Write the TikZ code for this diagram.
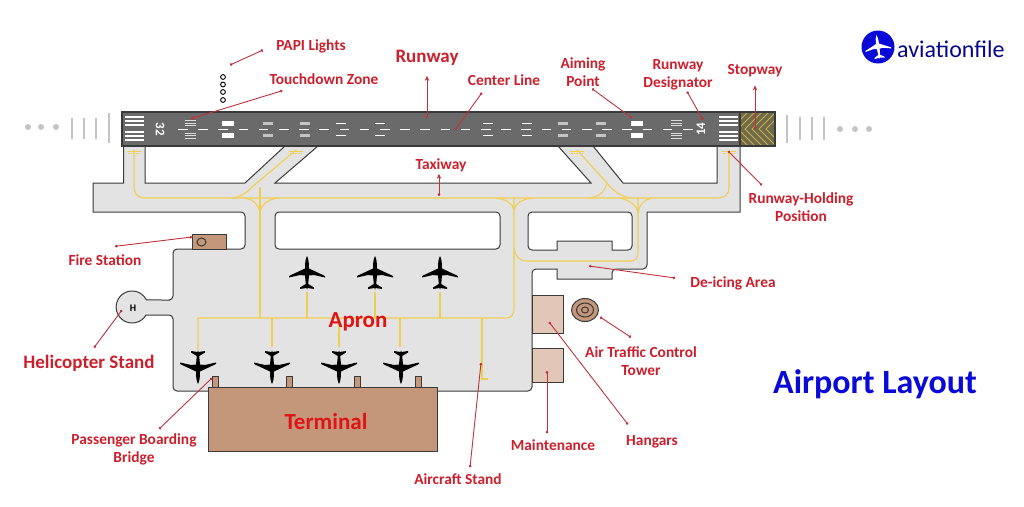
\documentclass[tikz,border=0pt]{standalone}
\usepackage{fontspec}
\setmainfont{Carlito}
\usetikzlibrary{arrows.meta}
\definecolor{lblred}{HTML}{CC1F2C}
\definecolor{bigred}{HTML}{E01414}
\definecolor{tarmac}{HTML}{E3E3E3}
\definecolor{rwygray}{HTML}{6A6A6A}
\definecolor{edgegray}{HTML}{3A3A3A}
\definecolor{taxiyellow}{HTML}{F0CE4E}
\definecolor{stopgray}{HTML}{6E6A4C}
\definecolor{terminalbrown}{HTML}{C4967A}
\definecolor{hangarbrown}{HTML}{E3C7B6}
\definecolor{logoblue}{HTML}{0A0AD8}
\definecolor{lightgray}{HTML}{C4C4C4}
\tikzset{
    plane/.pic={
        \fill[pic actions] (0,-17) .. controls (1.6,-14) and (2,-10) .. (2,-4.5)
            -- (18,3) -- (18,4.5) -- (7,2) -- (2,2.5) -- (1.2,11) -- (7,14.5) -- (7,16)
            -- (0.5,15) -- (0,16.5) -- (-0.5,15) -- (-7,16) -- (-7,14.5) -- (-1.2,11)
            -- (-2,2.5) -- (-7,2) -- (-18,4.5) -- (-18,3) -- (-2,-4.5)
            .. controls (-2,-10) and (-1.6,-14) .. (0,-17) -- cycle;
    }
}

\begin{document}
\begin{tikzpicture}[
            x=1pt, y=-1pt,
            % ----- Styles -----
                lbl/.style={
                    font=\fontsize{15.4}{18}\selectfont\bfseries,
                    text=lblred, align=center, inner sep=0pt
                },
                biglbl/.style={font=\fontsize{23}{27}\selectfont\bfseries, text=bigred, inner sep=0pt},
                callout/.style={{Circle[length=2.6pt]}-{Circle[length=2.6pt]}, draw=lblred!80!gray, line width=0.9pt},
                calltip/.style={{Circle[length=2.6pt]}-{Stealth[length=5pt,width=4.5pt]}, draw=lblred!80!gray, line width=0.9pt},
                taxi/.style={draw=taxiyellow, line width=1.1pt},
                building/.style={draw=edgegray, line width=1pt},
                approach/.style={draw=lightgray, line width=2pt},
                centerdash/.style={draw=white, line width=1pt}
            ]
                \useasboundingbox (0,0) rectangle (1024,506);

% ===================== Approach lights =========================
                \foreach \x in {28,41,56} \fill[lightgray] (\x,127) circle (3);
                \foreach \x in {840,855,869} \fill[lightgray] (\x,129) circle (3);
                \foreach \x in {72,84,96} \draw[approach] (\x,118) -- (\x,139);
                \draw[approach] (109,113) -- (109,143);
                \draw[approach] (787,115) -- (787,143);
                \foreach \x in {800,812,824} \draw[approach] (\x,117) -- (\x,140);

% ===================== Taxiways and apron ======================
                \draw[draw=edgegray, line width=1pt, fill=tarmac, even odd rule]
                    (93,195) -- (93,183) -- (123.5,183) -- (123.5,146) -- (145,146) -- (145,183)
                    -- (245,183) -- (285,146) -- (318,146) -- (275,183) -- (591,183) -- (558,146)
                    -- (593,146) -- (623,183) -- (717,183) -- (717,146) -- (740,146) -- (740,212)
                    -- (647,212) [rounded corners=4pt] -- (647,269) -- (612,269) [sharp corners] -- (612,279) -- (557,279) -- (557,269)
                    [rounded corners=4pt] -- (532,269) -- (532,391) -- (173,391) -- (173,315) [sharp corners]
                    -- (146,315) arc[start angle=30, end angle=334, radius=16] -- (170,300)
                    [rounded corners=4pt] -- (173,300) -- (173,249) -- (245,249) -- (245,212) [sharp corners] -- (93,212) -- cycle
                    [rounded corners=4pt] (275,230) -- (275,212) -- (500,212) -- (500,249) -- (275,249) -- cycle
                    (528,230) -- (528,212) -- (632,212) -- (632,250) [sharp corners] -- (612,250) -- (612,241)
                    -- (557,241) -- (557,250) [rounded corners=4pt] -- (528,250) -- cycle;

% ===================== Taxi guidance lines =====================
                \draw[taxi] (134,150) -- (134,185) .. controls (134,195) and (138,198) .. (146,198) -- (715,198)
                    .. controls (725,198) and (729,195) .. (729,187) -- (729,151);
                \draw[taxi] (296,150) -- (252,187) .. controls (245,194) and (240,197) .. (232,198);
                \draw[taxi] (245,198) .. controls (254,200) and (259,205) .. (260,213);
                \draw[taxi] (277,198) .. controls (267,200) and (261,205) .. (260,213);
                \draw[taxi] (260,187) -- (260,318);
                \draw[taxi] (198,350) -- (198,318) -- (506,318) .. controls (512,318) and (514,314) .. (514,308) -- (514,198);
                \draw[taxi] (497,198) .. controls (506,200) and (513,203) .. (514,210);
                \draw[taxi] (531,198) .. controls (522,200) and (515,203) .. (514,210);
                \draw[taxi] (514,248) .. controls (515,256) and (519,261) .. (527,261) -- (630,261)
                    .. controls (636,261) and (638,258) .. (638,252) -- (638,198);
                \draw[taxi] (620,198) .. controls (629,200) and (637,205) .. (638,213);
                \draw[taxi] (651,198) .. controls (644,200) and (639,205) .. (638,213);
                \draw[taxi] (577,150) -- (607,183) .. controls (612,190) and (620,196) .. (630,198);
                \draw[taxi] (607,183) .. controls (605,192) and (598,197) .. (590,198);
                \foreach \x in {272,339,400} \draw[taxi] (\x,318) -- (\x,347);
                \foreach \x in {307,375,440} \draw[taxi] (\x,318) -- (\x,292);
                \draw[taxi] (482,318) -- (482,379) -- (488,379);
                \foreach \x in {134,296,577,729} {
                    \draw[taxi, line width=0.9pt] (\x-7,151) -- (\x+7,151);
                    \draw[taxi, line width=0.9pt, dash pattern=on 1.5pt off 1.2pt] (\x-6,153) -- (\x+6,153);
                }

% ===================== Runway ==================================
                \fill[rwygray] (122,112) rectangle (740,146);
                \fill[stopgray] (740,112) rectangle (775,146);
                \begin{scope}
                    \clip (740,112) rectangle (775,146);
                    \foreach \x in {731,738,745,752,759,766} {
                        \draw[draw=taxiyellow!85!black, line width=0.9pt] (\x+18,111) -- (\x,129) -- (\x+18,147);
                    }
                \end{scope}
                \draw[edgegray, line width=1.1pt] (122,112) rectangle (775,146);
                \draw[edgegray, line width=1.1pt] (740,112) -- (740,146);

% threshold stripes
                \foreach \y in {117,121,125,132,136,140} {
                    \draw[draw=white, line width=1.6pt] (125,\y) -- (144,\y);
                    \draw[draw=white, line width=1.6pt] (719,\y) -- (738,\y);
                }

% center line
                \foreach \x in {178,198.2,...,690} \draw[centerdash] (\x,129) -- (\x+9.5,129);

% touchdown zone and aiming point bars
                \foreach \x in {190,676} \foreach \y in {120.5,123,125.5,133,135.5,138} {
                    \draw[draw=lightgray!60!white, line width=1pt] (\x-5.5,\y) -- (\x+5.5,\y);
                }
                \foreach \x in {228,637} {
                    \fill[white] (\x-6,120.5) rectangle (\x+6,125.5);
                    \fill[white] (\x-6,132.5) rectangle (\x+6,137.5);
                }
                \foreach \x in {268,305,563,601} {
                    \fill[lightgray] (\x-5,121.5) rectangle (\x+5,124.5);
                    \fill[lightgray] (\x-5,133.5) rectangle (\x+5,136.5);
                }
                \foreach \x in {341,380,488,527} {
                    \draw[draw=white, line width=1pt] (\x-5,123) -- (\x+5,123);
                    \draw[draw=white, line width=1pt] (\x-5,135) -- (\x+5,135);
                }
                \node[font=\fontsize{13}{13}\selectfont\bfseries, text=white, rotate=-90, inner sep=0pt] (num32) at (160,129) {32};
                \node[font=\fontsize{13}{13}\selectfont\bfseries, text=white, rotate=90, inner sep=0pt] (num14) at (701,129) {14};

% ===================== PAPI lights =============================
                \foreach \y in {77,84.5,92,100} \draw[black, line width=0.9pt] (223,\y) circle (2.4);

% ===================== Buildings ===============================
                \foreach \x in {215.5,289.5,357,418} {
                    \draw[building, fill=terminalbrown] (\x-3,387) -- (\x-3,376) -- (\x+3,376) -- (\x+3,387);
                }
                \draw[building, fill=terminalbrown] (208,387) rectangle (437,451);
                \draw[building, fill=terminalbrown] (192,234) rectangle (226,249);
                \draw[building] (201.5,242) ellipse (4.5 and 4);
                \draw[building, fill=hangarbrown] (532,295) rectangle (563,333);
                \draw[building, fill=hangarbrown] (532,348) rectangle (563,382);
                \draw[building, fill=terminalbrown] (585,310) ellipse (13.5 and 11.5);
                \draw[building] (585,310) ellipse (8.5 and 7);
                \draw[building] (585,310) ellipse (3.5 and 3);
                \node[font=\fontsize{10}{10}\selectfont\bfseries, inner sep=0pt] (helipad) at (133,308) {H};

% ===================== Aircraft ================================
                \foreach \x in {307,375,440} \pic at (\x,273) {plane};
                \foreach \x in {198,272,339,401} \pic[rotate=180] at (\x,367) {plane};

% ===================== Logo ====================================
                \fill[logoblue] (878,47) circle (16.5);
                \pic[fill=white, scale=0.72, rotate=8] at (878,47) {plane};
                \node[font=\fontsize{24}{24}\selectfont, text=logoblue!65!black, anchor=west, inner sep=0pt] (logoname) at (897,49) {aviationfile};

% ===================== Labels ==================================
                \node[lbl] (lblPapi)  at (311,46)  {PAPI Lights};
                \node[lbl] (lblTouch) at (324,79)  {Touchdown Zone};
                \node[lbl, font=\fontsize{19}{23}\selectfont\bfseries] (lblRunway) at (427,58) {Runway};
                \node[lbl] (lblCenter) at (504,80) {Center Line};
                \node[lbl] (lblAiming) at (583,72) {Aiming\\Point};
                \node[lbl] (lblDesig) at (678,75)  {Runway\\Designator};
                \node[lbl] (lblStop)  at (755,71)  {Stopway};
                \node[lbl] (lblTaxi)  at (441,165) {Taxiway};
                \node[lbl] (lblHold)  at (801,207) {Runway-Holding\\Position};
                \node[lbl] (lblFire)  at (105,260) {Fire Station};
                \node[lbl] (lblDeice) at (733,283) {De-icing Area};
                \node[lbl] (lblTower) at (641,361) {Air Traffic Control\\Tower};
                \node[lbl, font=\fontsize{19}{22}\selectfont\bfseries] (lblHeli) at (89,363) {Helicopter Stand};
                \node[lbl] (lblBridge) at (134,449) {Passenger Boarding\\Bridge};
                \node[lbl] (lblMaint) at (553,445) {Maintenance};
                \node[lbl] (lblHangar) at (652,442) {Hangars};
                \node[lbl] (lblStand) at (458,479) {Aircraft Stand};
                \node[biglbl] (lblApron) at (358,322) {Apron};
                \node[biglbl] (lblTerminal) at (326,422) {Terminal};
                \node[font=\fontsize{34}{34}\selectfont\bfseries, text=logoblue, inner sep=0pt] (lblTitle) at (875,384) {Airport Layout};

% ===================== Callout lines ===========================
                \coordinate (ptPapi)   at (230,65);
                \coordinate (ptTouch)  at (190,119);
                \coordinate (ptRunway) at (427,118);
                \coordinate (ptCenter) at (455,130);
                \coordinate (ptAiming) at (632,118);
                \coordinate (ptDesig)  at (703,120);
                \coordinate (ptStop)   at (755,129);
                \coordinate (ptTaxi)   at (439,196);
                \coordinate (ptHold)   at (728,151);
                \coordinate (ptFire)   at (192,237);
                \coordinate (ptDeice)  at (589,266);
                \coordinate (ptTower)  at (600,317);
                \coordinate (ptHeli)   at (122,310);
                \coordinate (ptBridge) at (212,378);
                \coordinate (ptMaint)  at (547,371);
                \coordinate (ptHangar) at (549,322);
                \coordinate (ptStand)  at (481,363);

                \draw[callout] ([shift={(-13,4)}]lblPapi.west) -- (ptPapi);
                \draw[calltip] ([shift={(13,6)}]lblTouch.south west) -- (ptTouch);
                \draw[calltip] (ptRunway) -- ([shift={(0,10)}]lblRunway.south);
                \draw[callout] ([shift={(-22,7)}]lblCenter.south) -- (ptCenter);
                \draw[callout] ([shift={(9,2)}]lblAiming.south) -- (ptAiming);
                \draw[callout] ([shift={(9,1)}]lblDesig.south) -- (ptDesig);
                \draw[calltip] (ptStop) -- ([shift={(0,8)}]lblStop.south);
                \draw[calltip] (ptTaxi) -- ([shift={(-2,2)}]lblTaxi.south);
                \draw[callout] ([shift={(-39,-7)}]lblHold.north) -- (ptHold);
                \draw[callout] ([shift={(10,-8)}]lblFire.north) -- (ptFire);
                \draw[callout] ([shift={(-15,-5)}]lblDeice.west) -- (ptDeice);
                \draw[callout] ([shift={(-10,-9)}]lblTower.north) -- (ptTower);
                \draw[callout] ([shift={(5,-7)}]lblHeli.north) -- (ptHeli);
                \draw[callout] ([shift={(25,-4)}]lblBridge.north) -- (ptBridge);
                \draw[callout] ([shift={(-6,-6)}]lblMaint.north) -- (ptMaint);
                \draw[callout] ([shift={(-24,-11)}]lblHangar.north) -- (ptHangar);
                \draw[callout] ([shift={(12,-6)}]lblStand.north) -- (ptStand);

            \end{tikzpicture}
\end{document}
